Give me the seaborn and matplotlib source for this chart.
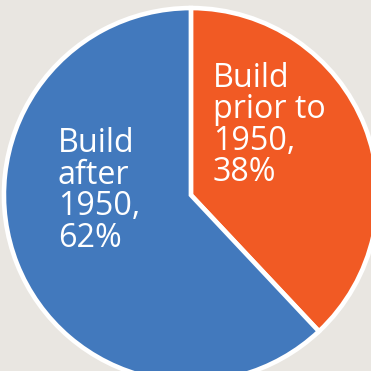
import matplotlib
matplotlib.use("Agg")
import matplotlib.pyplot as plt
import seaborn as sns

# Share of housing stock by construction period
labels = ["Build\nprior to\n1950", "Build\nafter\n1950"]
shares = [38, 62]
colors = ["#F15A24", "#4279BD"]

sns.set_style("white")
plt.rcParams["font.family"] = ["Open Sans", "DejaVu Sans"]

bg = "#E9E6E1"
fig = plt.figure(figsize=(3.71, 3.71), dpi=100, facecolor=bg)
ax = fig.add_axes([0, 0, 1, 1])
ax.set_facecolor(bg)

palette = sns.color_palette(colors)
wedges, _ = ax.pie(
    shares,
    colors=palette,
    startangle=90,
    counterclock=False,
    radius=1.0,
    wedgeprops=dict(edgecolor="white", linewidth=3.3),
)

ax.set_aspect("equal")
ax.set_xlim(-1.021, 0.963)
ax.set_ylim(-0.941, 1.043)
ax.axis("off")

label_pos = [(0.118, 0.712), (-0.711, 0.362)]
for lab, val, (x, y) in zip(labels, shares, label_pos):
    ax.text(x, y, f"{lab},\n{val}%", color="white", fontsize=23.2,
            fontweight="medium", ha="left", va="top", linespacing=0.94)

fig.savefig("out.png", dpi=100, facecolor=bg)
